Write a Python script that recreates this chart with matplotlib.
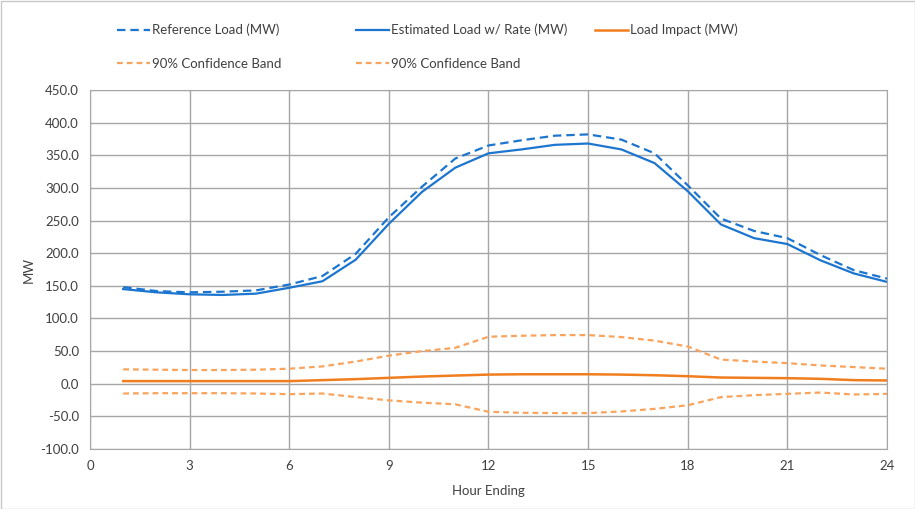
import matplotlib.pyplot as plt
from matplotlib.patches import Rectangle

plt.rcParams['font.family'] = ['Lato', 'DejaVu Sans']

horas = list(range(1, 25))
cargaReferencia = [148, 142, 140, 141, 143, 152, 165, 199, 255, 302, 345, 365,
                   373, 380, 382, 374, 353, 304, 253, 234, 223, 197, 174, 161]
cargaEstimada = [145, 140, 137, 136, 138, 147, 157, 190, 245, 294, 331, 353,
                 359, 366, 368, 359, 338, 295, 244, 223, 214, 189, 169, 156]
impactoCarga = [4, 4, 4, 4, 4, 4, 5.5, 7, 9, 11, 12.5, 14,
                14.5, 14.5, 14.5, 14, 13, 11.5, 9.5, 9, 8.5, 7.5, 5.5, 5]
bandaSuperior = [22, 21.5, 21, 21, 21.5, 23, 26.5, 34, 43, 50, 55, 72,
                 73.5, 74.5, 74.5, 71.5, 66, 57, 37, 34, 31.5, 28, 25.5, 23]
bandaInferior = [-15, -14.5, -14.5, -14.5, -15, -16, -15, -20.5, -25.5, -29, -31.5, -43,
                 -44.5, -45, -45, -42.5, -38.5, -33, -20.5, -17.5, -15.5, -13.5, -16.5, -15.5]

azul = '#1c75cf'
naranja = '#f07d1e'
naranjaClaro = '#f9a35c'
gris = '#a6a6a6'

fig = plt.figure(figsize=(9.15, 5.09), dpi=100)
ax = fig.add_axes([90 / 915, 1 - 449 / 509, 797 / 915, 359 / 509])

# Generar grafica
l1, = ax.plot(horas, cargaReferencia, color=azul, lw=1.6, linestyle=(0, (3.8, 2.2)),
              label='Reference Load (MW)')
l2, = ax.plot(horas, cargaEstimada, color=azul, lw=1.6, label='Estimated Load w/ Rate (MW)')
l3, = ax.plot(horas, impactoCarga, color=naranja, lw=1.8, label='Load Impact (MW)')
l4, = ax.plot(horas, bandaSuperior, color=naranjaClaro, lw=1.6, linestyle=(0, (2.6, 1.8)),
              label='90% Confidence Band')
l5, = ax.plot(horas, bandaInferior, color=naranjaClaro, lw=1.6, linestyle=(0, (2.6, 1.8)),
              label='90% Confidence Band')

ax.set_xlim(0, 24)
ax.set_ylim(-100, 450)
ax.set_xticks(range(0, 25, 3))
ax.set_yticks(range(-100, 451, 50))
ax.set_yticklabels([f'{v:.1f}' for v in range(-100, 451, 50)])
ax.tick_params(length=0, labelsize=9.5, colors='#404040', pad=8)
ax.grid(True, color=gris, lw=1)
ax.set_axisbelow(True)
for s in ax.spines.values():
    s.set_color(gris)

ax.set_xlabel('Hour Ending', fontsize=9.5, color='#404040', labelpad=9)
ax.set_ylabel('MW', fontsize=9.5, color='#404040')
ax.yaxis.set_label_coords((35 - 90) / 797, 0.5)

# Leyenda: cada elemento en su posicion (columnas de ancho fijo)
posiciones = [(117, 30), (356, 30), (595, 30), (117, 64), (356, 64)]
for linea, (px, py) in zip([l1, l2, l3, l4, l5], posiciones):
    fig.legend(handles=[linea], loc='center left',
               bbox_to_anchor=((px - 3) / 915, 1 - py / 509), frameon=False, fontsize=9.5,
               handlelength=2.5, handletextpad=0.15, borderpad=0.2, borderaxespad=0,
               labelcolor='#404040')

fig.patches.append(Rectangle((0.5 / 915, 0.5 / 509), 1 - 1 / 915, 1 - 1 / 509,
                             transform=fig.transFigure, fill=False, ec='#c8c8c8', lw=1))

plt.savefig('out.png')
